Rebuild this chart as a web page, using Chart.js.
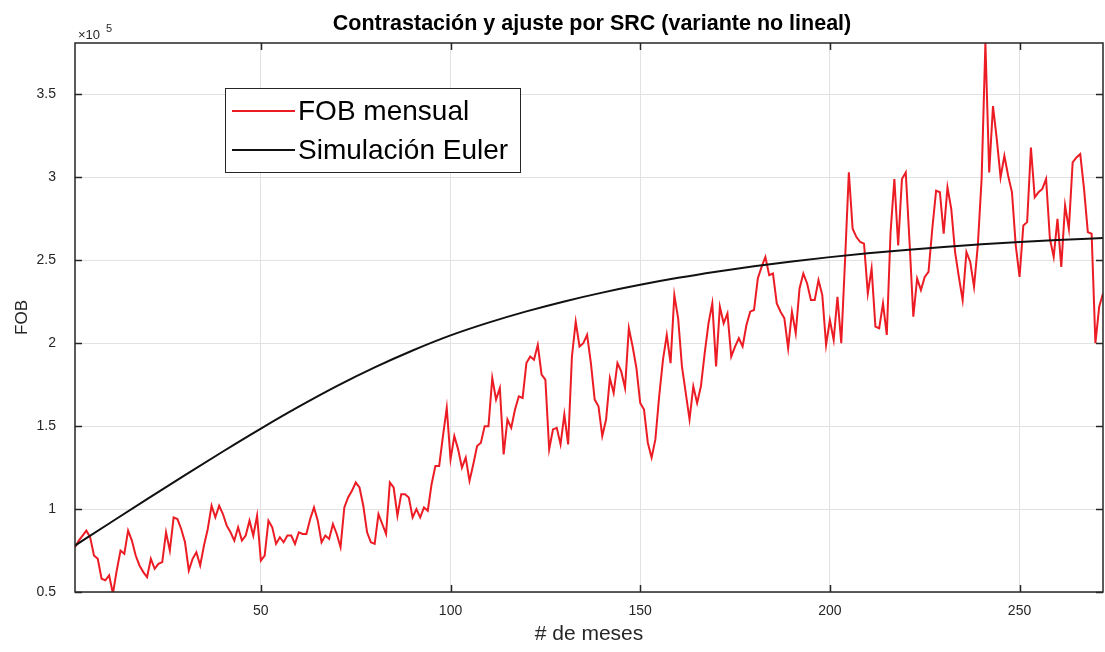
<!DOCTYPE html>
<html>
<head>
<meta charset="utf-8">
<script src="https://cdn.jsdelivr.net/npm/chart.js@4.4.1/dist/chart.umd.min.js"></script>
<style>
  html, body { margin: 0; padding: 0; background: #fff; }
</style>
</head>
<body>
<canvas id="fob" width="1105" height="652"></canvas>
<script>
// FOB mensual, en unidades de 1e5 (meses 1..272)
let fobMensual = [
  0.77, 0.81, 0.84, 0.87, 0.83, 0.72, 0.70, 0.58, 0.57, 0.60,
  0.49, 0.63, 0.75, 0.73, 0.87, 0.81, 0.72, 0.66, 0.62, 0.59,
  0.70, 0.64, 0.67, 0.68, 0.86, 0.75, 0.95, 0.94, 0.88, 0.80,
  0.63, 0.70, 0.74, 0.66, 0.78, 0.88, 1.02, 0.95, 1.02, 0.97,
  0.90, 0.86, 0.81, 0.89, 0.81, 0.84, 0.93, 0.84, 0.96, 0.69,
  0.72, 0.93, 0.89, 0.79, 0.83, 0.80, 0.84, 0.84, 0.79, 0.86,
  0.85, 0.85, 0.94, 1.01, 0.93, 0.80, 0.84, 0.82, 0.91, 0.85,
  0.77, 1.01, 1.07, 1.11, 1.16, 1.13, 1.02, 0.86, 0.80, 0.79,
  0.97, 0.91, 0.85, 1.16, 1.13, 0.96, 1.09, 1.09, 1.07, 0.95,
  1.00, 0.95, 1.01, 0.99, 1.15, 1.26, 1.26, 1.44, 1.61, 1.30,
  1.44, 1.36, 1.25, 1.31, 1.17, 1.27, 1.38, 1.40, 1.50, 1.50,
  1.79, 1.66, 1.73, 1.33, 1.54, 1.49, 1.60, 1.68, 1.67, 1.88,
  1.92, 1.90, 1.99, 1.81, 1.78, 1.36, 1.48, 1.49, 1.39, 1.57,
  1.39, 1.92, 2.13, 1.98, 2.00, 2.05, 1.88, 1.66, 1.62, 1.44,
  1.54, 1.79, 1.70, 1.88, 1.83, 1.73, 2.09, 1.98, 1.85, 1.64,
  1.60, 1.40, 1.31, 1.42, 1.68, 1.90, 2.05, 1.88, 2.29, 2.15,
  1.86, 1.70, 1.54, 1.74, 1.64, 1.74, 1.94, 2.12, 2.24, 1.86,
  2.22, 2.12, 2.18, 1.92, 1.98, 2.03, 1.98, 2.11, 2.19, 2.20,
  2.39, 2.46, 2.52, 2.41, 2.42, 2.24, 2.19, 2.15, 1.97, 2.19,
  2.06, 2.33, 2.42, 2.36, 2.26, 2.26, 2.38, 2.29, 1.99, 2.14,
  2.02, 2.28, 2.00, 2.50, 3.03, 2.69, 2.64, 2.61, 2.60, 2.30,
  2.45, 2.10, 2.09, 2.24, 2.05, 2.67, 2.99, 2.59, 2.99, 3.03,
  2.61, 2.16, 2.39, 2.32, 2.40, 2.43, 2.69, 2.92, 2.91, 2.66,
  2.94, 2.81, 2.55, 2.40, 2.26, 2.55, 2.49, 2.34, 2.59, 2.99,
  3.81, 3.03, 3.43, 3.23, 3.00, 3.13, 3.01, 2.91, 2.59, 2.40,
  2.71, 2.73, 3.18, 2.88, 2.91, 2.93, 2.99, 2.63, 2.52, 2.75,
  2.46, 2.83, 2.69, 3.09, 3.12, 3.14, 2.93, 2.67, 2.66, 2.00,
  2.22, 2.30,
]

// simulación por Euler, muestreada cada 10 meses (unidades de 1e5)
let eulerMeses = [1, 10, 20, 30, 40, 50, 60, 70, 80, 90, 100, 110, 120, 130, 140,
  150, 160, 170, 180, 190, 200, 210, 220, 230, 240, 250, 260, 272]
let eulerFob = [0.780, 0.913, 1.060, 1.205, 1.347, 1.485, 1.617, 1.741, 1.854, 1.956,
  2.047, 2.124, 2.192, 2.252, 2.305, 2.352, 2.394, 2.431, 2.464, 2.493,
  2.519, 2.542, 2.562, 2.580, 2.596, 2.610, 2.622, 2.634]

let xTicks = [50, 100, 150, 200, 250]
let yTicks = [0.5, 1, 1.5, 2, 2.5, 3, 3.5]
let xRange = [1, 272]
let yRange = [0.5, 3.81]

let titulo = 'Contrastación y ajuste por SRC (variante no lineal)'

const FONT = '"Liberation Sans", Arial, Helvetica, sans-serif'
const AXIS_COLOUR = '#262626'
const RED = 'rgb(236, 28, 36)'

// caja de ejes estilo matlab, exponente, título y leyenda
let boxPlugin = {
  id: 'matlabBox',
  afterDraw(chart) {
    let ctx = chart.ctx
    let a = chart.chartArea
    let sx = chart.scales.x
    let sy = chart.scales.y
    ctx.save()

    ctx.strokeStyle = AXIS_COLOUR
    ctx.lineWidth = 1.5
    ctx.strokeRect(a.left, a.top, a.right - a.left, a.bottom - a.top)

    ctx.beginPath()
    for (let t of xTicks) {
      let x = Math.round(sx.getPixelForValue(t)) + 0.5
      ctx.moveTo(x, a.bottom); ctx.lineTo(x, a.bottom - 7)
      ctx.moveTo(x, a.top); ctx.lineTo(x, a.top + 7)
    }
    for (let t of yTicks) {
      let y = Math.round(sy.getPixelForValue(t)) + 0.5
      ctx.moveTo(a.left, y); ctx.lineTo(a.left + 7, y)
      ctx.moveTo(a.right, y); ctx.lineTo(a.right - 7, y)
    }
    ctx.stroke()

    ctx.fillStyle = AXIS_COLOUR
    ctx.textAlign = 'left'
    ctx.textBaseline = 'alphabetic'
    ctx.font = `13px ${FONT}`
    ctx.fillText('×10', a.left + 3, a.top - 4)
    ctx.font = `11px ${FONT}`
    ctx.fillText('5', a.left + 31, a.top - 11)

    ctx.fillStyle = '#000'
    ctx.textAlign = 'center'
    ctx.font = `bold 21.5px ${FONT}`
    ctx.fillText(titulo, (a.left + a.right) / 2 + 3, 30)

    // leyenda
    let lx = 225, ly = 88, lw = 295, lh = 84
    ctx.fillStyle = '#fff'
    ctx.fillRect(lx, ly, lw, lh)
    ctx.strokeStyle = AXIS_COLOUR
    ctx.lineWidth = 1
    ctx.strokeRect(lx + 0.5, ly + 0.5, lw, lh)
    chart.data.datasets.forEach((ds, i) => {
      let y = ly + 23 + i * 39
      ctx.strokeStyle = ds.borderColor
      ctx.lineWidth = 2
      ctx.beginPath()
      ctx.moveTo(lx + 7, y)
      ctx.lineTo(lx + 70, y)
      ctx.stroke()
      ctx.fillStyle = '#000'
      ctx.textAlign = 'left'
      ctx.textBaseline = 'middle'
      ctx.font = `28px ${FONT}`
      ctx.fillText(ds.label, lx + 73, y + 1)
    })
    ctx.restore()
  },
}

let fobPoints = fobMensual.map((v, i) => ({x: i + 1, y: v}))
let eulerPoints = eulerMeses.map((m, i) => ({x: m, y: eulerFob[i]}))

let ctx = document.getElementById('fob').getContext('2d')
new Chart(ctx, {
  type: 'line',
  data: {
    datasets: [
      {
        label: 'FOB mensual',
        data: fobPoints,
        borderColor: RED,
        borderWidth: 2,
        pointRadius: 0,
        tension: 0,
        fill: false,
        order: 1,
      },
      {
        label: 'Simulación Euler',
        data: eulerPoints,
        borderColor: '#111',
        borderWidth: 2,
        pointRadius: 0,
        cubicInterpolationMode: 'monotone',
        fill: false,
        order: 0,
      },
    ],
  },
  options: {
    responsive: false,
    animation: false,
    events: [],
    layout: {padding: {top: 43, right: 2, left: 0, bottom: 0}},
    plugins: {
      legend: {display: false},
      title: {display: false},
      tooltip: {enabled: false},
    },
    scales: {
      x: {
        type: 'linear',
        min: xRange[0],
        max: xRange[1],
        afterBuildTicks: scale => { scale.ticks = xTicks.map(v => ({value: v})) },
        afterFit: scale => { scale.height = 60 },
        grid: {color: '#e2e2e2', lineWidth: 1, drawTicks: false},
        border: {display: false},
        ticks: {
          padding: 11,
          color: AXIS_COLOUR,
          font: {family: FONT, size: 14},
          maxRotation: 0,
        },
        title: {
          display: true,
          text: '# de meses',
          color: AXIS_COLOUR,
          font: {family: FONT, size: 21},
          padding: {top: 0, bottom: 5},
        },
      },
      y: {
        type: 'linear',
        min: yRange[0],
        max: yRange[1],
        afterBuildTicks: scale => { scale.ticks = yTicks.map(v => ({value: v})) },
        afterFit: scale => { scale.width = 75 },
        grid: {color: '#e2e2e2', lineWidth: 1, drawTicks: false},
        border: {display: false},
        ticks: {
          padding: 19,
          color: AXIS_COLOUR,
          font: {family: FONT, size: 14},
          callback: v => String(v),
        },
        title: {
          display: true,
          text: 'FOB',
          color: AXIS_COLOUR,
          font: {family: FONT, size: 17},
          padding: {top: 12, bottom: 0},
        },
      },
    },
  },
  plugins: [boxPlugin],
})
</script>
</body>
</html>
